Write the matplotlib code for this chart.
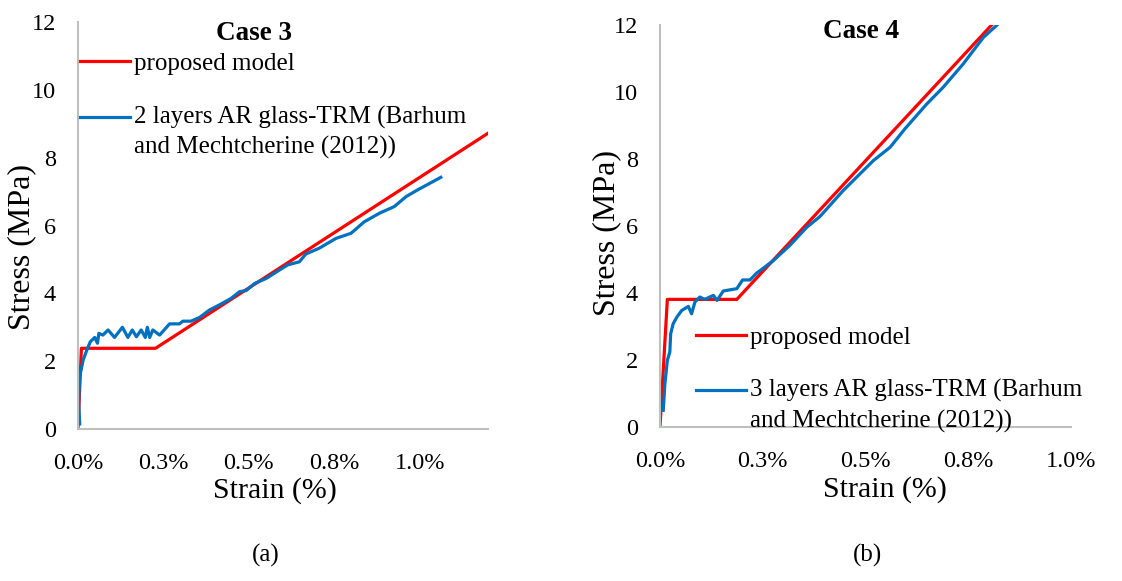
import math
import matplotlib
matplotlib.use("Agg")
import matplotlib.pyplot as plt
from matplotlib.ticker import FuncFormatter, MultipleLocator
from matplotlib.legend_handler import HandlerLine2D

plt.rcParams['font.family'] = ['Liberation Serif', 'DejaVu Serif']

RED = '#FF0000'
BLUE = '#0070C0'
GRID = '#BFBFBF'

# Case 3: 2 layers AR glass-TRM
c3_model_strain = [0.0, 0.0001, 0.00227, 0.012]
c3_model_stress = [0.0, 2.38, 2.38, 8.72]
c3_test_strain = [0.00005, 0.00002, 0.00005, 0.00015, 0.00026, 0.00036, 0.00049, 0.00057,
                  0.00061, 0.00073, 0.00088, 0.00107, 0.0013, 0.00146, 0.00159, 0.00171,
                  0.00185, 0.00197, 0.00203, 0.0021, 0.00219, 0.00239, 0.00268, 0.00297,
                  0.00307, 0.00331, 0.00356, 0.00385, 0.00414, 0.00448, 0.00473, 0.00492,
                  0.00517, 0.00551, 0.0059, 0.00614, 0.00648, 0.00667, 0.00706, 0.00755,
                  0.00799, 0.00838, 0.00882, 0.00926, 0.0096, 0.00994, 0.01062]
c3_test_stress = [0.15, 0.76, 1.54, 2.03, 2.33, 2.57, 2.70, 2.53,
                  2.82, 2.77, 2.92, 2.70, 3.00, 2.70, 2.92, 2.72,
                  2.92, 2.70, 3.00, 2.70, 2.92, 2.77, 3.10, 3.10,
                  3.18, 3.18, 3.29, 3.51, 3.66, 3.85, 4.05, 4.08,
                  4.29, 4.44, 4.69, 4.84, 4.93, 5.16, 5.33, 5.62,
                  5.77, 6.11, 6.36, 6.56, 6.85, 7.05, 7.42]

# Case 4: 3 layers AR glass-TRM
c4_model_strain = [0.0, 0.00018, 0.00187, 0.00807]
c4_model_stress = [0.0, 3.81, 3.81, 12.0]
c4_test_strain = [0.00008, 0.00012, 0.00018, 0.00024, 0.00026, 0.00032, 0.00041, 0.00053,
                  0.00069, 0.00077, 0.00085, 0.00097, 0.00109, 0.0013, 0.00139, 0.00154,
                  0.00187, 0.00201, 0.00219, 0.00235, 0.00276, 0.00316, 0.00357, 0.00389,
                  0.00446, 0.00519, 0.0056, 0.00596, 0.00649, 0.00689, 0.00738, 0.00787,
                  0.00823]
c4_test_stress = [0.5, 1.29, 1.99, 2.24, 2.78, 3.08, 3.28, 3.48,
                  3.60, 3.38, 3.73, 3.88, 3.81, 3.93, 3.78, 4.06,
                  4.13, 4.39, 4.39, 4.59, 4.97, 5.42, 5.96, 6.28,
                  7.06, 7.95, 8.35, 8.90, 9.64, 10.14, 10.84, 11.63,
                  12.03]


class HandlerFirstLine(HandlerLine2D):
    """Legend line that sits level with the first row of a wrapped label."""

    def __init__(self, shift, **kw):
        super().__init__(**kw)
        self.shift = shift

    def create_artists(self, legend, orig_handle, xdescent, ydescent,
                       width, height, fontsize, trans):
        artists = super().create_artists(legend, orig_handle, xdescent, ydescent,
                                         width, height, fontsize, trans)
        for a in artists:
            a.set_ydata([v + self.shift for v in a.get_ydata()])
        return artists


def excel_pct(v, pos):
    # round half up like the spreadsheet does (0.25% -> 0.3%)
    return '%.1f%%' % (math.floor(v * 1000 + 0.5 + 1e-9) / 10)


fig = plt.figure(figsize=(11.22, 5.81), dpi=100)
ax1 = fig.add_axes([0.0695, 0.2616, 0.3654, 0.7005])
ax2 = fig.add_axes([0.5882, 0.265, 0.3663, 0.692])


def style(ax, xmax):
    ax.set_xlim(0, xmax)
    ax.set_ylim(0, 12)
    ax.xaxis.set_major_locator(MultipleLocator(0.0025))
    ax.yaxis.set_major_locator(MultipleLocator(2))
    ax.xaxis.set_major_formatter(FuncFormatter(excel_pct))
    for s in ['top', 'right']:
        ax.spines[s].set_visible(False)
    for s in ['left', 'bottom']:
        ax.spines[s].set_color(GRID)
        ax.spines[s].set_linewidth(1.5)
    ax.tick_params(axis='both', length=0, labelsize=17.5)
    ax.tick_params(axis='x', pad=17)
    ax.tick_params(axis='y', pad=16)
    ax.set_xlabel('Strain (%)', fontsize=21.5)
    ax.set_ylabel('Stress (MPa)', fontsize=23)


def add_legend(ax, **kw):
    leg = ax.legend(frameon=False, fontsize=18, handlelength=2.0, handletextpad=0.15,
                    labelspacing=1.23, borderaxespad=0,
                    handler_map={ax.lines[1]: HandlerFirstLine(11.2)}, **kw)
    for t in leg.get_texts():
        t.set_linespacing(1.43)
    return leg


style(ax1, 0.012)
ax1.plot(c3_model_strain, c3_model_stress, color=RED, lw=2.3, label='proposed model')
ax1.plot(c3_test_strain, c3_test_stress, color=BLUE, lw=2.3,
         label='2 layers AR glass-TRM (Barhum\nand Mechtcherine (2012))')
ax1.text(0.43, 0.973, 'Case 3', transform=ax1.transAxes, ha='center', va='center',
         fontsize=19.5, fontweight='bold')
add_legend(ax1, loc='upper left', bbox_to_anchor=(-0.02, 0.95))
ax1.xaxis.set_label_coords(0.48, -0.118)
ax1.yaxis.set_label_coords(-0.103, 0.447)

style(ax2, 0.01)
ax2.plot(c4_model_strain, c4_model_stress, color=RED, lw=2.3, label='proposed model')
ax2.plot(c4_test_strain, c4_test_stress, color=BLUE, lw=2.3,
         label='3 layers AR glass-TRM (Barhum\nand Mechtcherine (2012))')
ax2.text(0.49, 0.985, 'Case 4', transform=ax2.transAxes, ha='center', va='center',
         fontsize=19.5, fontweight='bold')
add_legend(ax2, loc='lower left', bbox_to_anchor=(0.063, -0.04))
ax2.xaxis.set_label_coords(0.547, -0.122)
ax2.yaxis.set_label_coords(-0.095, 0.483)

fig.text(266 / 1122, 1 - 555 / 581, '(a)', ha='center', va='center', fontsize=18)
fig.text(868 / 1122, 1 - 555 / 581, '(b)', ha='center', va='center', fontsize=18)

fig.savefig('out.png', dpi=100)
